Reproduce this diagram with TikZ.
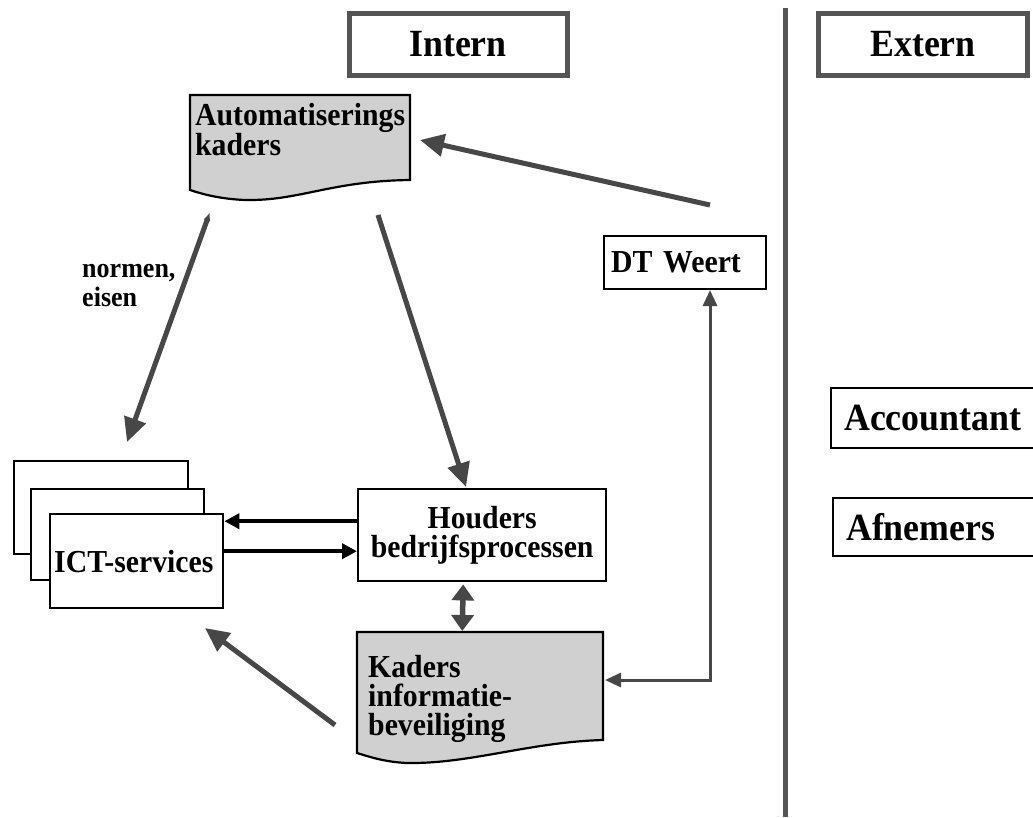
\documentclass[tikz,border=0pt]{standalone}
\usepackage{fontspec}
\setmainfont{Liberation Serif}[FakeStretch=0.93]
\usetikzlibrary{arrows.meta,calc}
\definecolor{arrgray}{HTML}{474747}
\definecolor{docgray}{HTML}{D0D0D0}
\definecolor{framegray}{HTML}{555555}
\begin{document}
\begin{tikzpicture}[x=1pt,y=-1pt,
  txt/.style={font=\bfseries\fontsize{32}{29}\selectfont},
  bigtxt/.style={font=\bfseries\fontsize{38.5}{40}\selectfont},
  hdr/.style={draw=framegray, line width=5pt, fill=white, inner sep=0pt, bigtxt},
  box/.style={draw=black, line width=2.4pt, fill=white, inner sep=0pt, anchor=north west},
  lbox/.style={box, align=left, inner ysep=0pt},
  doc/.style={draw=black, line width=2.2pt, fill=docgray},
  garrow/.style={draw=arrgray, line width=5pt, -{Triangle[length=24pt,width=22pt]}},
  barrow/.style={draw=black, line width=3.8pt, -{Triangle[length=15pt,width=15pt]}},
  tarrow/.style={draw=arrgray, line width=3pt, {Triangle[length=16pt,width=14pt]}-{Triangle[length=16pt,width=14pt]}},
  darrow/.style={draw=arrgray, line width=5.5pt, {Triangle[length=16pt,width=22pt]}-{Triangle[length=16pt,width=22pt]}},
  empty/.style={inner sep=0pt, anchor=north west}
]
\useasboundingbox[fill=white] (0,0) rectangle (1033,817);

% headers
\node[hdr, minimum width=218, minimum height=62] (intern) at (458,44) {Intern};
\node[hdr, minimum width=209, minimum height=62] (extern) at (923,44) {Extern};

% divider
\draw[draw=framegray, line width=5pt] (785,8) -- (785,817);

% Automatiserings kaders document
\filldraw[doc] (190,95) -- (410,95) -- (410,180)
  .. controls (330,181) and (300,201) .. (245,200)
  .. controls (222,199) and (205,195) .. (190,190) -- cycle;
\node[empty, minimum width=220, minimum height=105] (auto) at (190,95) {};
\node[txt, anchor=north west, align=left, inner sep=0pt] (autotxt) at (195,103) {Automatiserings\\kaders};

% Kaders informatiebeveiliging document
\filldraw[doc] (357,632) -- (603,632) -- (603,740)
  .. controls (530,742) and (470,764) .. (407,763)
  .. controls (385,762) and (370,757) .. (357,753) -- cycle;
\node[empty, minimum width=246, minimum height=131] (kaders) at (357,632) {};
\node[txt, anchor=north west, align=left, inner sep=0pt] (kaderstxt) at (368,655) {Kaders\\informatie-\\beveiliging};

% DT Weert
\node[lbox, txt, text width=148, inner xsep=7pt, minimum height=53] (dt) at (603,235) {DT Weert};

% Houders
\node[box, txt, align=center, minimum width=248, minimum height=92] (houders) at (357,488) {Houders\\bedrijfsprocessen};

% ICT services stack
\node[box, minimum width=174, minimum height=93] (ict3) at (13,460) {};
\node[box, minimum width=173, minimum height=91] (ict2) at (30,488) {};
\node[lbox, txt, text width=165, inner xsep=4pt, minimum height=94] (ict) at (49,513) {ICT-services};

% external boxes
\node[lbox, bigtxt, text width=194, inner xsep=13pt, minimum height=60] (acc) at (830,387) {Accountant};
\node[lbox, bigtxt, text width=194, inner xsep=13pt, minimum height=58] (afn) at (832,497) {Afnemers};

% normen, eisen label
\node[anchor=north west, align=left, inner sep=0pt, font=\bfseries\fontsize{28}{29}\selectfont] (normen) at (82,264) {normen,\\eisen};

% connector end coordinates
\coordinate (dtout) at (710,205);
\coordinate (autoin) at (420,140);
\coordinate (autonorm) at (210,212);
\coordinate (ictnorm) at (127,442);
\coordinate (autodown) at (378,215);
\coordinate (houdin) at (466,487);
\coordinate (kadout) at (335,725);
\coordinate (ictin) at (205,628);
\coordinate (dtin) at (710,290);
\coordinate (corner) at (710,680);
\coordinate (kadin) at (605,680);

% connectors
\draw[garrow] (dtout) -- (autoin);
\draw[draw=arrgray, line width=5pt, {Latex[length=9pt,width=7pt]}-{Triangle[length=24pt,width=22pt]}] (autonorm) -- (ictnorm);
\draw[garrow] (autodown) -- (houdin);
\draw[barrow] ($(houders.west)+(0,-14)$) -- ($(ict.east)+(0,-40)$);
\draw[barrow] ($(ict.east)+(0,-10)$) -- ($(houders.west)+(0,16)$);
\draw[darrow] ($(houders.south)+(-19,2)$) -- ($(kaders.north)+(-18,-1)$);
\draw[tarrow] (kadin) -- (corner) -- (dtin);
\draw[garrow] (kadout) -- (ictin);
\end{tikzpicture}
\end{document}
